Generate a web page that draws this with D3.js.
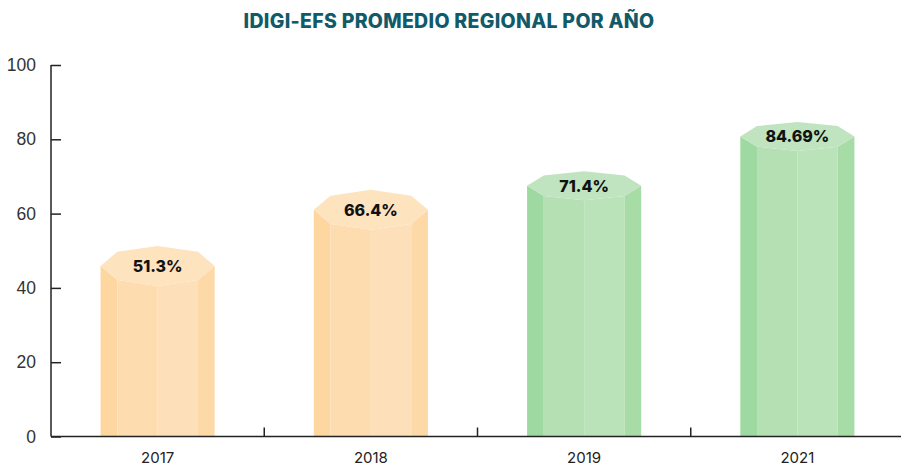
<!DOCTYPE html>
<html>
<head>
<meta charset="utf-8">
<script src="https://cdn.jsdelivr.net/npm/d3@7"></script>
<style>
  html, body { margin: 0; padding: 0; background: #fff; }
  svg { display: block; font-family: Inter, "Noto Sans", sans-serif; }
</style>
</head>
<body>
<div id="chart"></div>
<script>
/*
 * Chart data.
 */
var years = ["2017", "2018", "2019", "2021"]
  , values = [51.3, 66.4, 71.4, 84.69]
  , labels = ["51.3%", "66.4%", "71.4%", "84.69%"]
  , yTicks = [0, 20, 40, 60, 80, 100];

var width = 901
  , height = 467;

/*
 * Two colour sets for the prisms: faces left to right, then the cap.
 */
var orange = { faces: ["#fdd6a0", "#fddcb0", "#fde0b9", "#fdd9a8"], cap: "#fee3bf", ry: 20 }
  , green = { faces: ["#9dd9a0", "#b4e0b3", "#bbe3ba", "#a8dca6"], cap: "#bfe4bf", ry: 14.5 }
  , barStyle = [orange, orange, green, green];

var svg = d3.select('#chart').append('svg')
  .attr('width', width)
  .attr('height', height);

var x = d3.scaleBand()
  .domain(years)
  .range([51, 904])
  .padding(0);

var y = d3.scaleLinear()
  .domain([0, 100])
  .range([436.5, 65]);

// title
svg.append('text')
  .attr('x', 449)
  .attr('y', 27.5)
  .attr('text-anchor', 'middle')
  .style('font-size', '19.5px')
  .style('font-weight', 800)
  .style('letter-spacing', '0.3px')
  .style('fill', '#115a69')
  .text('IDIGI-EFS PROMEDIO REGIONAL POR AÑO');

/*
 * Prisms: octagonal columns seen slightly from above.
 */
var angles = d3.range(8).map(function(k) { return k * Math.PI / 4; });

var bars = svg.append('g')
  .selectAll('g')
  .data(years)
  .join('g');

bars.each(function(d, i) {
  var g = d3.select(this)
    , st = barStyle[i]
    , cx = x(d) + x.bandwidth() / 2
    , r = x.bandwidth() * 0.535 / 2
    , cy = y(values[i]) + st.ry
    , base = y(0);

  var pts = angles.map(function(a) {
    return [cx + r * Math.cos(a), cy + st.ry * Math.sin(a)];
  });

  // visible faces, drawn left to right
  var faces = [[4, 3], [3, 2], [2, 1], [1, 0]];
  faces.forEach(function(f, j) {
    var a = pts[f[0]], b = pts[f[1]];
    g.append('path')
      .attr('d', 'M' + a[0] + ',' + a[1] + 'L' + b[0] + ',' + b[1] +
        'L' + b[0] + ',' + base + 'L' + a[0] + ',' + base + 'Z')
      .style('fill', st.faces[j]);
  });

  g.append('path')
    .attr('d', 'M' + pts.join('L') + 'Z')
    .style('fill', st.cap);

  g.append('text')
    .attr('x', cx)
    .attr('y', cy)
    .attr('dy', '0.36em')
    .attr('text-anchor', 'middle')
    .style('font-size', '16px')
    .style('font-weight', 800)
    .style('fill', '#111')
    .text(labels[i]);
});

// axes
var yAxis = svg.append('g')
  .attr('transform', 'translate(51,0)')
  .call(d3.axisRight(y).tickValues(yTicks).tickSize(10).tickFormat(d3.format('d')));

yAxis.select('.domain').attr('d', 'M0,' + y(100) + 'V' + y(0));
yAxis.selectAll('line').style('stroke', '#222').style('stroke-width', 1.5);
yAxis.selectAll('text')
  .attr('x', -15)
  .attr('text-anchor', 'end')
  .style('font-size', '17.5px')
  .style('fill', '#333');

var xAxis = svg.append('g')
  .attr('transform', 'translate(0,' + y(0) + ')')
  .call(d3.axisTop(x).tickSize(0).tickFormat(''));

xAxis.select('.domain').attr('d', 'M51,0H901');

// separators between years
xAxis.selectAll('.sep')
  .data(years.slice(1))
  .join('line')
  .attr('class', 'sep')
  .attr('x1', function(d) { return x(d); })
  .attr('x2', function(d) { return x(d); })
  .attr('y1', 0)
  .attr('y2', -9)
  .style('stroke', '#222')
  .style('stroke-width', 1.5);

svg.append('g')
  .selectAll('text')
  .data(years)
  .join('text')
  .attr('x', function(d) { return x(d) + x.bandwidth() / 2; })
  .attr('y', 462.5)
  .attr('text-anchor', 'middle')
  .style('font-size', '15px')
  .style('fill', '#222')
  .text(function(d) { return d; });

svg.selectAll('.domain').style('stroke', '#222').style('stroke-width', 1.5);
</script>
</body>
</html>
